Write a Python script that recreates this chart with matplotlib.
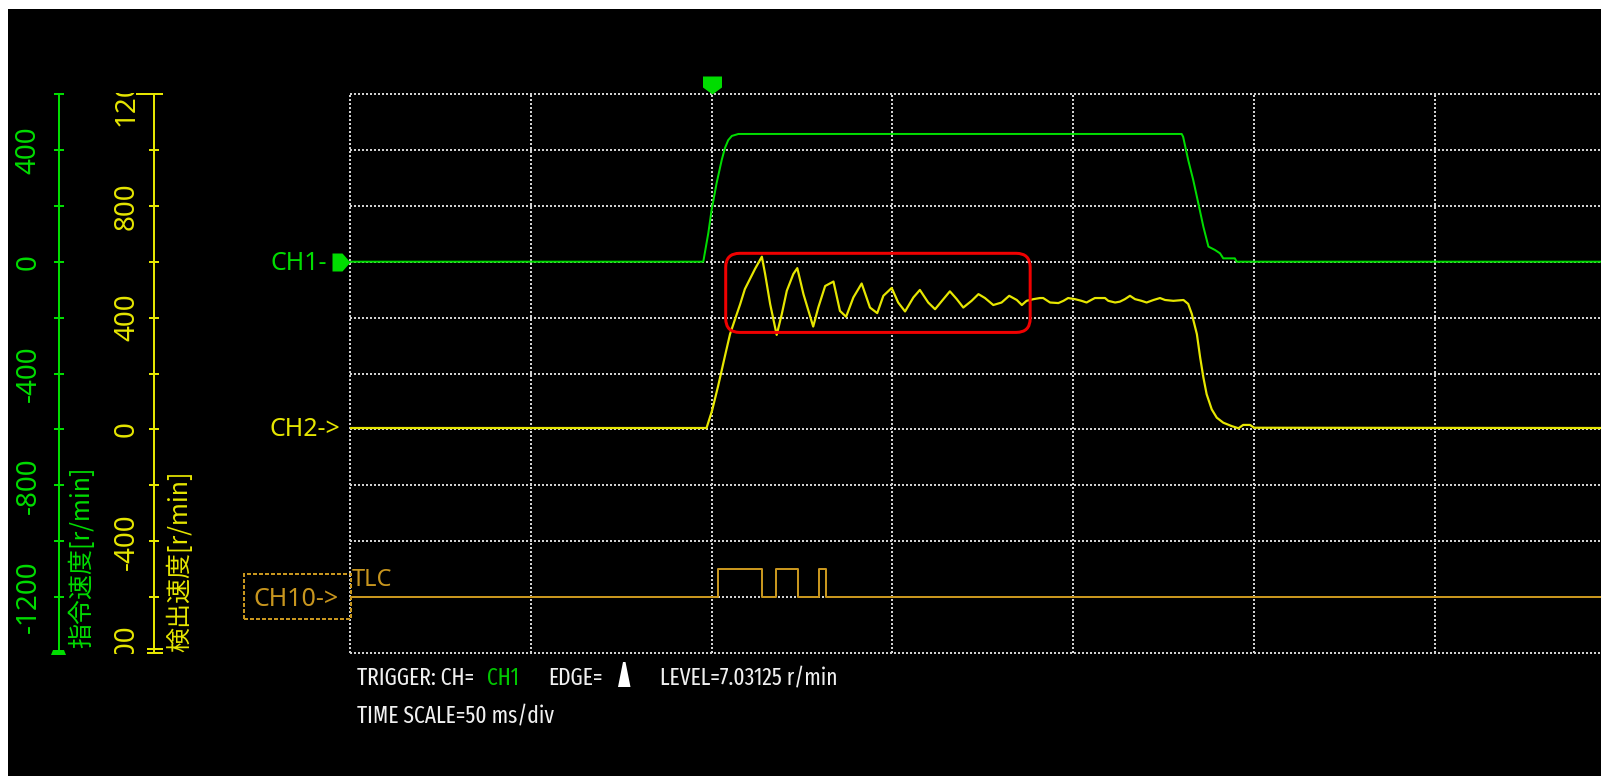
import os
import numpy as np
import matplotlib
matplotlib.use("Agg")
import matplotlib.pyplot as plt
from matplotlib import font_manager as fm
from matplotlib.font_manager import FontProperties
from matplotlib.patches import Rectangle, FancyBboxPatch, Polygon
from matplotlib.lines import Line2D
from matplotlib.path import Path
from matplotlib.transforms import Bbox, TransformedBbox

# ---------------- data ----------------
# CH1: command speed [r/min]
ch1_time_ms = [-100.0, -2.3, -0.9, 0.0, 1.4, 2.8, 3.7, 4.6, 5.6, 7.4,
               130.0, 130.4, 131.8, 133.2, 134.6, 136.0, 137.4, 139.2, 140.6, 141.5,
               144.7, 145.2, 246.0]
ch1_speed = [0, 0, 103, 185, 282, 364, 407, 435, 450, 457,
             457, 447, 364, 292, 209, 125, 54, 42, 30, 12,
             12, 0, 0]

# CH2: detected speed [r/min]
ch2_time_ms = [-100.0, -1.4, 0.1, 1.8, 3.7, 5.1, 6.5, 7.9, 9.2, 10.6, 12.0, 13.9, 14.8, 16.2,
               18.0, 19.4, 20.8, 22.6, 23.7, 25.4, 28.1, 29.5, 31.4, 33.7, 35.5, 37.2, 39.2,
               41.5, 43.8, 45.8, 47.5, 49.8, 51.6, 53.5, 55.8, 57.6, 59.9, 61.8, 64.1, 65.9,
               67.8, 69.6, 71.9, 73.8, 75.6, 77.9, 80.2, 82.3, 84.4, 85.8, 87.1, 89.0, 90.8,
               91.7, 93.6, 95.9, 97.3, 98.6, 100.5, 102.3, 103.7, 105.1, 106.0, 108.8, 109.7,
               111.6, 112.9, 114.3, 115.7, 117.1, 118.9, 120.3, 122.2, 124.0, 125.4, 127.7,
               130.5, 131.8, 132.8, 134.2, 135.1, 136.0, 136.9, 138.3, 139.7, 141.5, 143.8,
               145.7, 147.0, 148.9, 150.0, 246.0]
ch2_speed = [5, 5, 66, 155, 263, 341, 395, 448, 502, 538, 574, 618, 556, 448,
             338, 412, 496, 556, 577, 484, 368, 436, 513, 529, 424, 403, 472,
             522, 436, 416, 478, 506, 454, 422, 472, 499, 454, 430, 466, 494,
             466, 436, 460, 484, 470, 445, 454, 478, 463, 445, 460, 466, 470,
             470, 454, 452, 460, 470, 466, 460, 454, 464, 470, 470, 460,
             454, 457, 466, 478, 466, 460, 454, 463, 470, 463, 460,
             463, 449, 413, 341, 258, 186, 126, 72, 42, 24, 12,
             4, 16, 16, 6, 5]

# CH10: TLC digital signal (edges)
tlc_time_ms = [-100.0, 1.9, 13.9, 17.8, 24.0, 29.8, 31.6, 246.0]
tlc_state = [0, 1, 0, 1, 0, 1, 0, 0]

# highlighted region (time [ms], CH2 speed [r/min])
box_time_ms = [3.9, 88.1]
box_speed = [347, 630]

ch1_ticks = list(range(-1400, 601, 200))
ch2_ticks = list(range(-800, 1201, 200))
time_div_ms = 50
trigger_text = ["TRIGGER: CH=", "CH1", "EDGE=", "LEVEL=7.03125 r/min"]
scale_text = "TIME SCALE=50 ms/div"

# ---------------- styling / layout ----------------
W, H = 1601, 776
GREEN = "#00dc00"
YELLOW = "#e6e600"
GOLD = "#c8961e"
RED = "#f00000"
GRID = "#d0d0d0"
TXT = "#f0f0f0"
PX = 0.72  # points per pixel at dpi=100
TICK_FS = 20

plt.rcParams["font.family"] = ["Noto Sans", "DejaVu Sans"]
plt.rcParams["axes.unicode_minus"] = False


def fx(px):
    return px / W


def fy(py):
    return 1 - py / H


fig = plt.figure(figsize=(W / 100, H / 100), dpi=100, facecolor="black")

# white screenshot borders
fig.add_artist(Rectangle((0, fy(9)), 1, 9 / H, transform=fig.transFigure,
                         facecolor="white", edgecolor="none", zorder=5))
fig.add_artist(Rectangle((0, 0), 8 / W, 1, transform=fig.transFigure,
                         facecolor="white", edgecolor="none", zorder=5))

LEFT, RIGHT, TOP, BOT = 350, 1601, 94, 653
DIV_PX = 180.8
rect = [fx(LEFT), fy(BOT), (RIGHT - LEFT) / W, (BOT - TOP) / H]
t0 = -2 * time_div_ms
t1 = t0 + time_div_ms * (RIGHT - LEFT) / DIV_PX

# grid axes
ax = fig.add_axes(rect)
ax.set_facecolor("black")
ax.set_xlim(t0, t1)
ax.set_ylim(0, 10)
ax.set_xticks(np.arange(t0, t1, time_div_ms))
ax.set_yticks(np.arange(0, 11, 1))
ax.tick_params(length=0, labelbottom=False, labelleft=False)
for s in ax.spines.values():
    s.set_visible(False)
ax.grid(True, color=GRID, linestyle=(0, (1, 1)), linewidth=2 * PX)
for gl in ax.get_xgridlines() + ax.get_ygridlines():
    gl.set_clip_on(False)


def overlay(ylim):
    a = fig.add_axes(rect, sharex=ax)
    a.set_ylim(*ylim)
    a.set_axis_off()
    a.patch.set_visible(False)
    return a


ax10 = overlay((-2, 18))
ax2 = overlay((ch2_ticks[0], ch2_ticks[-1]))
ax1 = overlay((ch1_ticks[0], ch1_ticks[-1]))

ax10.plot(tlc_time_ms, tlc_state, drawstyle="steps-post", color=GOLD, lw=2 * PX)
ax2.plot(ch2_time_ms, ch2_speed, color=YELLOW, lw=2.2 * PX)
ax1.plot(ch1_time_ms, ch1_speed, color=GREEN, lw=2 * PX)

# red rounded highlight box
px_per_ms = DIV_PX / time_div_ms
ch2_per_px = (ch2_ticks[-1] - ch2_ticks[0]) / (BOT - TOP)
aspect = ch2_per_px * px_per_ms
ax2.add_patch(FancyBboxPatch((box_time_ms[0], box_speed[0]),
                             box_time_ms[1] - box_time_ms[0], box_speed[1] - box_speed[0],
                             boxstyle=f"round,pad=0,rounding_size={14 / px_per_ms}",
                             mutation_aspect=aspect, fill=False, edgecolor=RED,
                             lw=3 * PX, clip_on=False, zorder=5))

# trigger marker (top) and CH1 zero marker (left)
trig_marker = Path([(-9.5, 18), (9.5, 18), (9.5, 7), (0, 0), (-9.5, 7), (-9.5, 18)],
                   [Path.MOVETO] + [Path.LINETO] * 4 + [Path.CLOSEPOLY])
ch1_marker = Path([(0, 0), (-8, 9), (-18, 9), (-18, -9), (-8, -9), (0, 0)],
                  [Path.MOVETO] + [Path.LINETO] * 4 + [Path.CLOSEPOLY])
ax1.plot([0], [ch1_ticks[-1]], marker=trig_marker, markersize=36 * PX,
         color=GREEN, mew=0, clip_on=False, zorder=6)
ax1.plot([t0], [0], marker=ch1_marker, markersize=36 * PX,
         color=GREEN, mew=0, clip_on=False, zorder=6)

# ---------------- left scales ----------------
clipbox = TransformedBbox(Bbox([[0, fy(BOT + 1)], [1, fy(TOP - 1)]]), fig.transFigure)


def side_axis(xpx, ticks, color, pad_px):
    a = fig.add_axes([fx(xpx), fy(BOT), 1 / W, (BOT - TOP) / H])
    a.set_ylim(ticks[0], ticks[-1])
    a.set_xlim(0, 1)
    a.patch.set_visible(False)
    for s in ["right", "top", "bottom"]:
        a.spines[s].set_visible(False)
    a.spines["left"].set_color(color)
    a.spines["left"].set_linewidth(2 * PX)
    a.set_xticks([])
    a.set_yticks(ticks)
    a.set_yticklabels([str(v) if v % 400 == 0 else "" for v in ticks], fontsize=TICK_FS)
    a.tick_params(axis="y", direction="inout", length=10 * PX, width=2 * PX,
                  color=color, labelcolor=color, labelsize=TICK_FS, pad=pad_px * PX,
                  labelrotation=90)
    for lab in a.get_yticklabels():
        lab.set_fontsize(TICK_FS)
        lab.set_va("center")
        lab.set_ha("right")
        lab.set_rotation_mode("default")
        lab.set_clip_on(True)
        lab.set_clip_box(clipbox)
    return a


side_axis(58.7, ch1_ticks, GREEN, 11)
side_axis(154, ch2_ticks, YELLOW, 8)

# axis end caps
fig.add_artist(Polygon([(fx(53), fy(650)), (fx(64), fy(650)), (fx(66), fy(655)), (fx(51), fy(655))],
                       closed=True, transform=fig.transFigure, facecolor=GREEN, edgecolor="none"))
fig.add_artist(Line2D([fx(137), fx(162)], [fy(93.5), fy(93.5)], transform=fig.transFigure,
                      color=YELLOW, lw=2 * PX))
for yy in (649, 653):
    fig.add_artist(Line2D([fx(148), fx(162)], [fy(yy), fy(yy)], transform=fig.transFigure,
                          color=YELLOW, lw=2 * PX))

cjk = ["Noto Sans CJK JP", "DejaVu Sans"]
fig.text(fx(82), fy(648), "指令速度[r/min]", rotation=90, ha="center", va="bottom",
         color=GREEN, fontsize=18, family=cjk)
fig.text(fx(180), fy(652), "検出速度[r/min]", rotation=90, ha="center", va="bottom",
         color=YELLOW, fontsize=18, family=cjk)

# channel labels
fig.text(fx(327), fy(270), "CH1-", color=GREEN, fontsize=18, ha="right", va="baseline")
fig.text(fx(340), fy(436), "CH2->", color=YELLOW, fontsize=18, ha="right", va="baseline")
fig.text(fx(339), fy(606), "CH10->", color=GOLD, fontsize=18, ha="right", va="baseline")
fig.add_artist(Rectangle((fx(244), fy(619)), (350.7 - 244) / W, 45 / H, transform=fig.transFigure,
                         fill=False, edgecolor=GOLD, lw=2 * PX, linestyle=(0, (2, 1))))
fig.text(fx(352), fy(586), "TLC", color=GOLD, fontsize=17, ha="left", va="baseline")


# ---------------- bottom info text (condensed font if available) ----------------
def pick_condensed():
    best = None
    for f in fm.fontManager.ttflist:
        base = os.path.basename(f.fname).lower()
        low = (f.name + " " + base).lower().replace("-", "").replace(" ", "")
        bad = ["italic", "oblique", "bold", "light", "thin", "medium", "black", "semibold", "heavy"]
        if any(b in low for b in bad) or f.style != "normal":
            continue
        st = str(f.stretch).lower()
        if "extracondensed" in low or st == "extra-condensed":
            score = 0
        elif "narrow" in low:
            score = 1
        elif "semicondensed" in low or st == "semi-condensed":
            score = 3
        elif "condensed" in low or st == "condensed":
            score = 2
        else:
            continue
        if "sans" not in low and "roboto" not in low:
            score += 5
        if best is None or score < best[0]:
            best = (score, f.fname)
    return best[1] if best else None


cond_path = pick_condensed()
fp = FontProperties(fname=cond_path) if cond_path else FontProperties(family="Noto Sans")
renderer = fig.canvas.get_renderer()
targets = [(trigger_text[0], 118), (trigger_text[2], 55), (trigger_text[3], 185), (scale_text, 195)]
sizes = []
for s, w in targets:
    f2 = fp.copy()
    f2.set_size(20)
    tt = fig.text(0, 0, s, fontproperties=f2)
    sizes.append(20 * w / tt.get_window_extent(renderer).width)
    tt.remove()
bsize = min(float(np.median(sizes)), 20)
fpb = fp.copy()
fpb.set_size(bsize)

fig.text(fx(357), fy(685), trigger_text[0], color=TXT, fontproperties=fpb, va="baseline")
fig.text(fx(487), fy(685), trigger_text[1], color="#00c800", fontproperties=fpb, va="baseline")
fig.text(fx(548), fy(685), trigger_text[2], color=TXT, fontproperties=fpb, va="baseline")
fig.add_artist(Polygon([(fx(623), fy(662)), (fx(625.5), fy(662)), (fx(630.5), fy(687)), (fx(618), fy(687))],
                       closed=True, transform=fig.transFigure, facecolor="white", edgecolor="none"))
fig.text(fx(660), fy(685), trigger_text[3], color=TXT, fontproperties=fpb, va="baseline")
fig.text(fx(357), fy(723), scale_text, color=TXT, fontproperties=fpb, va="baseline")

fig.savefig("out.png", dpi=100, facecolor="black")
